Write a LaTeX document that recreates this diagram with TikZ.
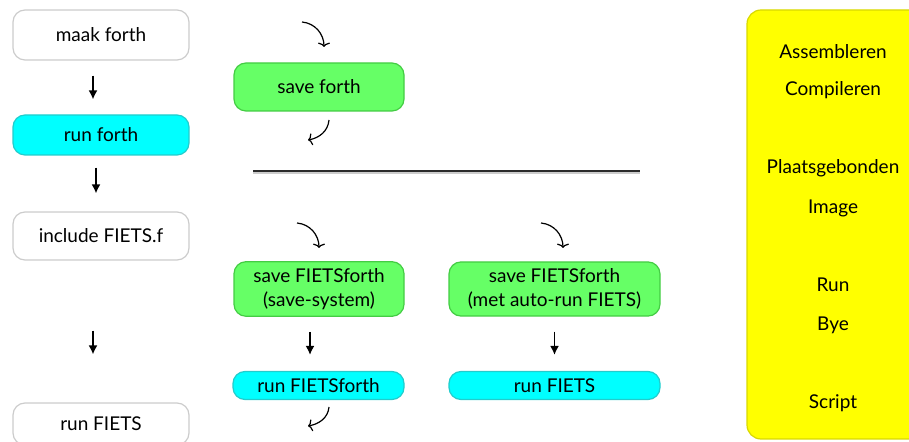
\documentclass[tikz,border=0pt]{standalone}
\usepackage{fontspec}
\setmainfont{Lato}
\usepackage{tikz}
\usetikzlibrary{calc,arrows.meta}
\usepackage{xcolor}
\definecolor{box_gray}{HTML}{CCCCCC}
\definecolor{save_green}{HTML}{66FF66}
\definecolor{save_edge}{HTML}{44CC44}
\definecolor{run_cyan}{HTML}{00FFFF}
\definecolor{run_edge}{HTML}{22CCCC}
\definecolor{panel_yellow}{HTML}{FFFF00}
\definecolor{panel_edge}{HTML}{D8D800}
\definecolor{line_dark}{HTML}{2A2A2A}

\tikzset{
	stap/.style={draw=box_gray, line width=0.6pt, rounded corners=6pt, fill=white, minimum width=88pt, align=center},
	bewaar/.style={draw=save_edge, line width=0.6pt, rounded corners=6pt, fill=save_green, minimum width=85pt, align=center},
	draai/.style={draw=run_edge, line width=0.6pt, rounded corners=6pt, fill=run_cyan, minimum width=85.5pt, minimum height=14pt, inner sep=0pt},
	neer/.style={-{Latex[length=4.5pt,width=4.5pt]}, line width=0.8pt},
	bocht/.style={-{To[length=2.2pt,width=6pt]}, line width=0.6pt},
	woord/.style={inner sep=0pt}
}

\begin{document}
\begin{tikzpicture}[x=0.5pt, y=0.5pt, font=\fontsize{9.5}{12}\selectfont]
	\useasboundingbox (0, 0) rectangle (909, -442);
	\clip (0, 0) rectangle (909, -442);
	% left column
	\node[stap, minimum height=25pt] (maakf) at (101, -35) {maak forth};
	\node[stap, draw=run_edge, fill=run_cyan, minimum height=20pt] (runf) at (101, -135) {run forth};
	\node[stap, minimum height=24pt] (incl) at (101, -236) {include FIETS.f};
	\node[stap, minimum height=21pt] (runfiets) at (101, -424) {run FIETS};
	\draw[neer, shorten <=7.5pt, shorten >=7.5pt] ($(maakf.south) + (-8, 0)$) -- ($(runf.north) + (-8, 0)$);
	\draw[neer, shorten <=6pt, shorten >=9pt] ($(runf.south) + (-5, 0)$) -- ($(incl.north) + (-5, 0)$);
	\draw[neer, shorten <=35pt, shorten >=24pt] ($(incl.south) + (-8, 0)$) -- ($(runfiets.north) + (-8, 0)$);
	% middle column
	\node[bewaar, minimum height=24pt] (savef) at (319, -87) {save forth};
	\coordinate (c1a) at (302, -22);
	\coordinate (c1b) at (324, -47);
	\draw[bocht] (c1a) to[out=-5, in=90] (c1b);
	\coordinate (c2a) at (329, -120);
	\coordinate (c2b) at (308, -140);
	\draw[bocht] (c2a) to[out=-95, in=10] (c2b);
	\coordinate (sepL) at (253, -171);
	\coordinate (sepR) at (640, -171);
	\draw[box_gray, line width=1pt] ($(sepL) + (0, -2)$) -- ($(sepR) + (0, -2)$);
	\draw[line_dark, line width=1.2pt] (sepL) -- (sepR);
	\node[bewaar, minimum height=26pt] (savefiets) at (319, -289) {save FIETSforth\\(save-system)};
	\node[draai] (runff) at (318.5, -385.5) {run FIETSforth};
	\coordinate (c3a) at (297, -223);
	\coordinate (c3b) at (319, -248);
	\draw[bocht] (c3a) to[out=-5, in=90] (c3b);
	\draw[neer, shorten <=7.5pt, shorten >=8pt] ($(savefiets.south) + (-9, 0)$) -- ($(runff.north) + (-8.5, 0)$);
	\coordinate (c5a) at (329, -407);
	\coordinate (c5b) at (308, -426);
	\draw[bocht] (c5a) to[out=-95, in=10] (c5b);
	% right column
	\node[bewaar, minimum width=105.5pt, minimum height=26pt] (saveauto) at (554.5, -289) {save FIETSforth\\(met auto-run FIETS)};
	\node[draai, minimum width=105.5pt] (runauto) at (554.5, -385.5) {run FIETS};
	\coordinate (c4a) at (541, -223);
	\coordinate (c4b) at (563, -248);
	\draw[bocht] (c4a) to[out=-5, in=90] (c4b);
	\draw[neer, shorten <=7.5pt, shorten >=8pt] (saveauto.south) -- (runauto.north);
	% panel
	\draw[draw=panel_edge, fill=panel_yellow, line width=0.6pt, rounded corners=7pt] (747, -10) rectangle (935, -439);
	\node[woord] (w1) at (833, -52) {Assembleren};
	\node[woord] (w2) at (833, -90) {Compileren};
	\node[woord] (w3) at (833, -168) {Plaatsgebonden};
	\node[woord] (w4) at (833, -208) {Image};
	\node[woord] (w5) at (833, -285) {Run};
	\node[woord] (w6) at (833, -325) {Bye};
	\node[woord] (w7) at (833, -403) {Script};
\end{tikzpicture}
\end{document}
